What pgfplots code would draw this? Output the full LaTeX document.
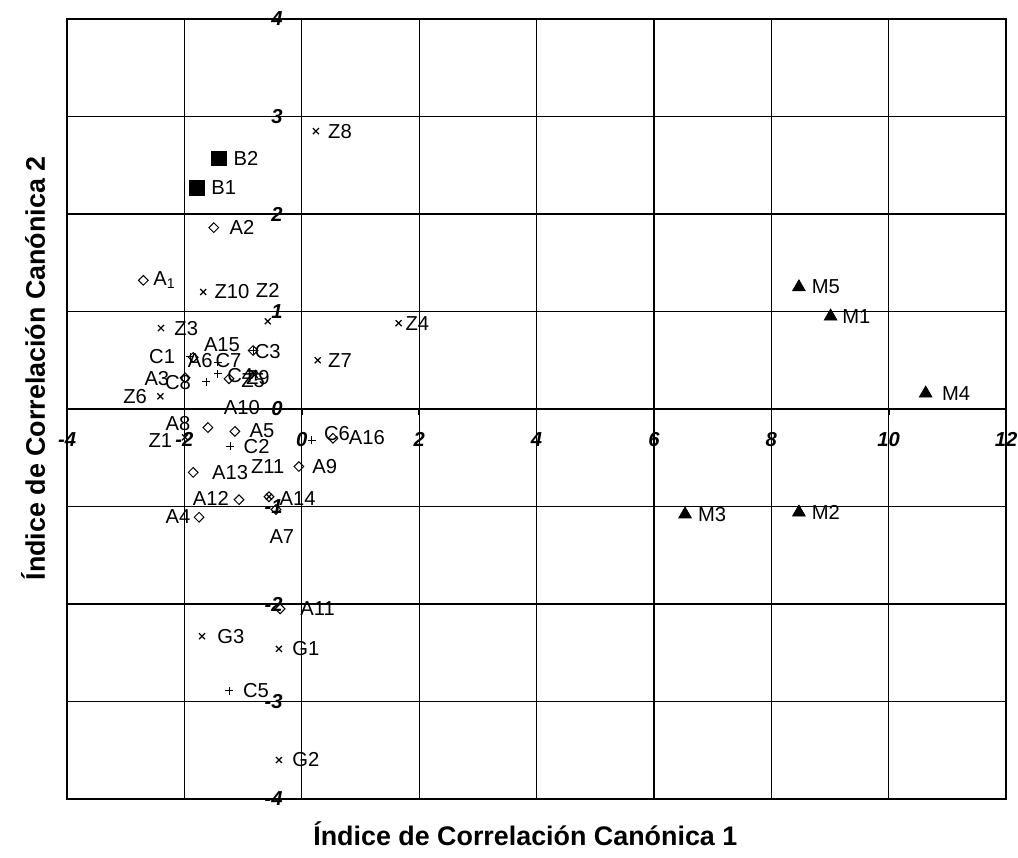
\documentclass[border=0pt]{standalone}
\usepackage{pgfplots}
\pgfplotsset{compat=1.18}
\usepackage{fontspec}
\setmainfont{Liberation Sans}
\begin{document}
\begin{tikzpicture}
\begin{axis}[
  scale only axis, width=464.9pt, height=386.2pt,
  xmin=-4, xmax=12, ymin=-4, ymax=4,
  axis lines=middle, axis line style={-, line width=0.6pt},
  xtick={-4,-2,...,12}, ytick={-4,-3,...,4},
  hide obscured x ticks=false, hide obscured y ticks=false,
  grid=major, major grid style={black, line width=0.6pt},
  tick align=outside, major tick length=3pt, tick style={black, line width=0.8pt},
  /pgf/number format/assume math mode=true,
  ticklabel style={font=\bfseries\itshape\fontsize{10}{12}\selectfont},
  xticklabel style={yshift=-5pt},
  yticklabel style={xshift=-3pt},
  xlabel={Índice de Correlación Canónica 1},
  ylabel={Índice de Correlación Canónica 2},
  x label style={at={(axis description cs:0.488,-0.0448)}, anchor=center, font=\bfseries\fontsize{13.3}{16}\selectfont},
  y label style={at={(axis description cs:-0.0361,0.552)}, anchor=center, rotate=90, font=\bfseries\fontsize{13.3}{16}\selectfont},
  clip=false,
]
\draw[line width=0.6pt] (rel axis cs:0,0) rectangle (rel axis cs:1,1);
\coordinate (sw) at (rel axis cs:0,0);
\coordinate (ne) at (rel axis cs:1,1);
% B: squares
\addplot[only marks, mark=square*, mark size=3.7pt, black] coordinates {
(-1.41,2.57) (-1.79,2.27)};
% M: triangles
\addplot[only marks, mark=triangle*, mark size=3.6pt, black] coordinates {
(8.47,1.25) (9.01,0.95) (10.63,0.16) (6.53,-1.08) (8.47,-1.06)};
% A: open diamonds
\addplot[only marks, mark=square, mark size=1.7pt, black, line width=0.5pt, mark options={rotate=45, fill=white}] coordinates {
(-1.50,1.86) (-2.70,1.32) (-0.83,0.60) (-1.24,0.31) (-1.99,0.32) (-1.85,0.53)
(-1.60,-0.19) (-1.14,-0.23) (0.53,-0.30) (-0.05,-0.59) (-1.85,-0.65) (-1.07,-0.93)
(-0.56,-0.90) (-0.44,-1.03) (-1.75,-1.11) (-0.37,-2.05)};
% Z, G: crosses
\addplot[only marks, mark=x, mark size=2.1pt, black, line width=0.6pt] coordinates {
(0.24,2.85) (-1.68,1.20) (-0.58,0.90) (-2.40,0.83) (1.65,0.88) (0.27,0.50)
(-2.41,0.13) (-0.83,0.37) (-0.80,0.35) (-1.99,-0.29) (-0.56,-0.90)
(-1.70,-2.33) (-0.39,-2.46) (-0.39,-3.60)};
% C: plus
\addplot[only marks, mark=+, mark size=1.9pt, black, line width=0.5pt] coordinates {
(-1.90,0.535) (-1.43,0.48) (-1.63,0.28) (-1.43,0.36) (-0.83,0.60)
(-1.22,-0.38) (0.17,-0.32) (-1.24,-2.89)};
% labels
\addplot[only marks, mark=none, point meta=explicit symbolic, nodes near coords,
  every node near coord/.append style={anchor=center, inner sep=0pt, font=\fontsize{10}{12}\selectfont}]
coordinates {
(-0.95,2.57) [B2]
(-1.33,2.27) [B1]
(-1.02,1.86) [A2]
(-2.34,1.32) [A\textsubscript{1}]
(-1.19,1.20) [Z10]
(-0.58,1.22) [Z2]
(-1.97,0.83) [Z3]
(1.97,0.88) [Z4]
(0.65,0.50) [Z7]
(0.65,2.85) [Z8]
(-2.84,0.13) [Z6]
(-2.38,0.535) [C1]
(-1.36,0.66) [A15]
(-0.58,0.59) [C3]
(-1.73,0.50) [A6]
(-1.25,0.50) [C7]
(-2.47,0.31) [A3]
(-2.11,0.27) [C8]
(-1.05,0.34) [C4]
(-0.83,0.29) [Z5]
(-0.75,0.32) [Z9]
(-1.02,0.01) [A10]
(-2.11,-0.15) [A8]
(-2.41,-0.32) [Z1]
(-0.68,-0.22) [A5]
(-0.77,-0.38) [C2]
(0.60,-0.25) [C6]
(1.11,-0.29) [A16]
(0.39,-0.59) [A9]
(-0.58,-0.59) [Z11]
(-1.22,-0.65) [A13]
(-1.55,-0.92) [A12]
(-0.07,-0.92) [A14]
(-2.11,-1.10) [A4]
(-0.34,-1.31) [A7]
(0.27,-2.05) [A11]
(-1.21,-2.33) [G3]
(0.07,-2.46) [G1]
(-0.78,-2.89) [C5]
(0.07,-3.60) [G2]
(8.93,1.25) [M5]
(9.45,0.95) [M1]
(11.15,0.16) [M4]
(6.99,-1.08) [M3]
(8.93,-1.06) [M2]
};
\end{axis}
\pgfresetboundingbox
\path[use as bounding box] ([shift={(-33.2pt,-28.7pt)}]sw) rectangle ([shift={(5.9pt,9.4pt)}]ne);
\end{tikzpicture}
\end{document}
